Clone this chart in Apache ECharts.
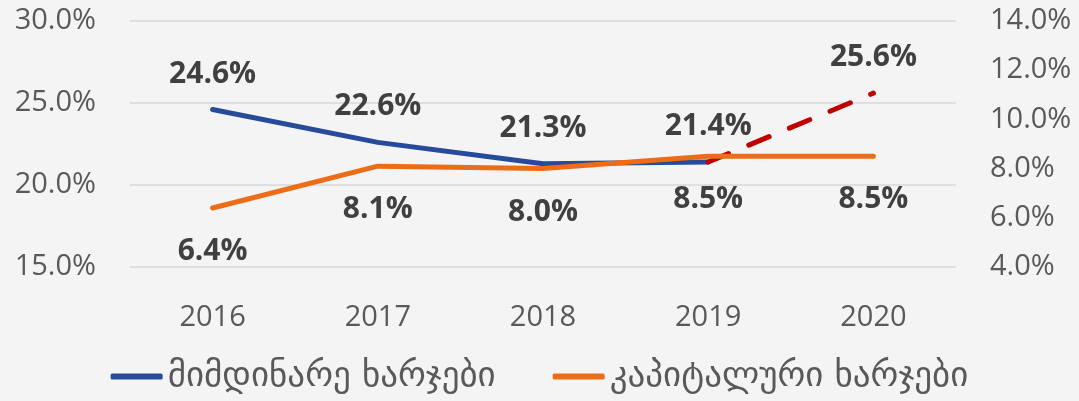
<!DOCTYPE html>
<html>
<head>
<meta charset="utf-8">
<script src="https://cdn.jsdelivr.net/npm/echarts@6/dist/echarts.min.js"></script>
<style>
  html, body { margin: 0; padding: 0; background: #f4f4f4; }
  #chart { width: 1079px; height: 401px; }
</style>
</head>
<body>
<div id="chart"></div>
<script>
// chart data
const years = ['2016', '2017', '2018', '2019', '2020'];
const currentName = 'მიმდინარე ხარჯები';
const capitalName = 'კაპიტალური ხარჯები';
const currentValues = [24.6, 22.6, 21.3, 21.4, null];
const forecastValues = [null, null, null, 21.4, 25.6];
const capitalValues = [6.4, 8.1, 8.0, 8.5, 8.5];

const font = '"Open Sans", "Noto Sans", "DejaVu Sans", sans-serif';
const pct = v => v.toFixed(1) + '%';

const chart = echarts.init(document.getElementById('chart'));

const labelStyle = {
  show: true,
  fontFamily: font,
  fontSize: 30,
  fontWeight: 'bold',
  color: '#404040',
  formatter: p => pct(p.value)
};

const axisText = {
  fontFamily: font,
  fontSize: 29,
  color: '#595959'
};

const option = {
  backgroundColor: '#f4f4f4',
  animation: false,
  grid: {
    left: 130,
    right: 123,
    top: 21,
    bottom: 134
  },
  legend: {
    bottom: 2,
    left: 'center',
    itemGap: 57,
    itemWidth: 52,
    itemHeight: 6,
    icon: 'roundRect',
    data: [currentName, capitalName],
    textStyle: {
      fontFamily: '"DejaVu Sans", sans-serif',
      fontSize: 35,
      color: '#595959',
      padding: [0, 0, 0, 0]
    }
  },
  xAxis: {
    type: 'category',
    data: years,
    axisLine: { show: false },
    axisTick: { show: false },
    axisLabel: Object.assign({ margin: 36 }, axisText)
  },
  yAxis: [
    {
      type: 'value',
      min: 15,
      max: 30,
      interval: 5,
      axisLabel: Object.assign({ margin: 34, formatter: v => pct(v) }, axisText),
      splitLine: { lineStyle: { color: '#d9d9d9', width: 1.5 } }
    },
    {
      type: 'value',
      min: 4,
      max: 14,
      interval: 2,
      axisLabel: Object.assign({ margin: 34, formatter: v => pct(v) }, axisText),
      splitLine: { show: false }
    }
  ],
  series: [
    {
      name: currentName,
      type: 'line',
      yAxisIndex: 0,
      data: currentValues,
      z: 2,
      symbol: 'circle',
      symbolSize: 1,
      color: '#254b9a',
      lineStyle: { width: 5, color: '#254b9a', cap: 'round' },
      label: Object.assign({}, labelStyle, { position: 'top', distance: 20 })
    },
    {
      name: 'forecast',
      type: 'line',
      yAxisIndex: 0,
      data: forecastValues,
      z: 3,
      symbol: 'circle',
      symbolSize: 1,
      color: '#c00000',
      lineStyle: { width: 5, color: '#c00000', type: [22, 22], cap: 'round' },
      label: Object.assign({}, labelStyle, {
        position: 'top',
        distance: 20,
        formatter: p => (p.dataIndex === 4 ? pct(p.value) : '')
      })
    },
    {
      name: capitalName,
      type: 'line',
      yAxisIndex: 1,
      data: capitalValues,
      z: 4,
      symbol: 'circle',
      symbolSize: 1,
      color: '#ed6c18',
      lineStyle: { width: 5, color: '#ed6c18', cap: 'round' },
      label: Object.assign({}, labelStyle, { position: 'bottom', distance: 28 })
    }
  ]
};

chart.setOption(option);
</script>
</body>
</html>
